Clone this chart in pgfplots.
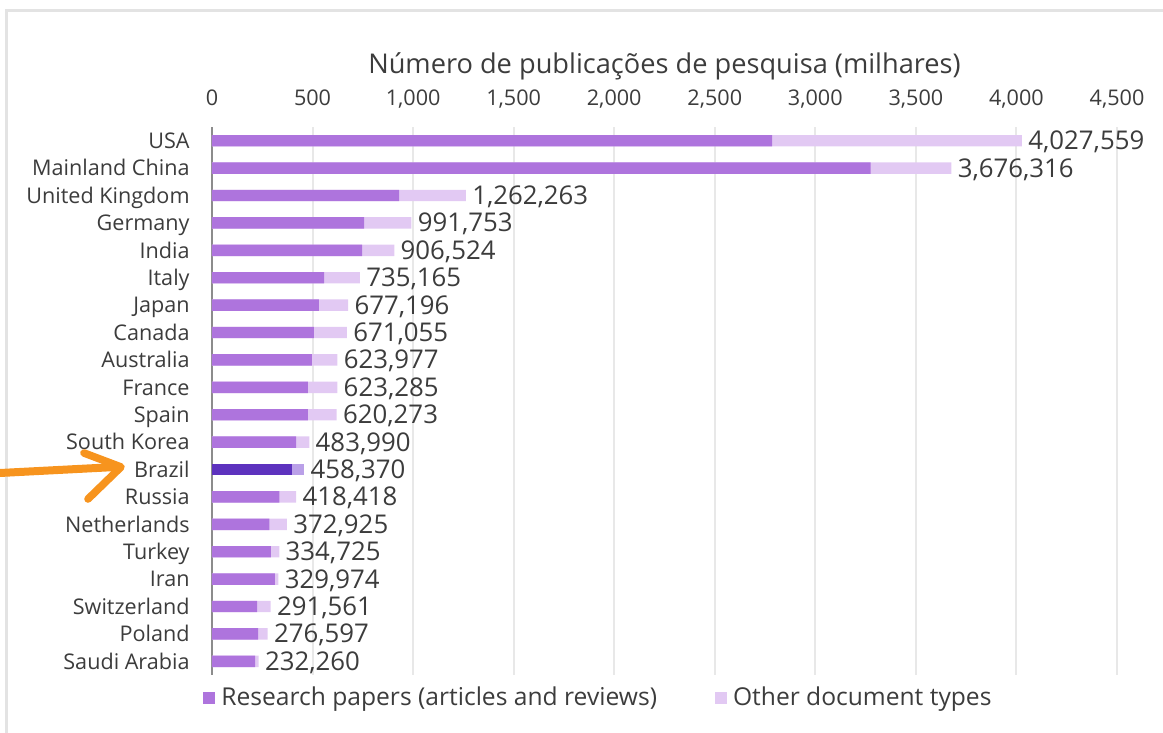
\documentclass[border=0pt]{standalone}
\usepackage{pgfplots}
\usepackage{pgfplotstable}
\pgfplotsset{compat=1.18}
\usepackage{fontspec}
\setmainfont{Open Sans}
\definecolor{resc}{RGB}{174,116,221}
\definecolor{othc}{RGB}{226,201,243}
\definecolor{brdark}{RGB}{93,50,190}
\definecolor{brlight}{RGB}{186,160,232}
\definecolor{txt}{RGB}{60,60,60}
\definecolor{arrowc}{RGB}{247,148,30}

\pgfplotstableread{
y research total label
0 2785 4027.559 4,027,559
1 3275 3676.316 3,676,316
2 930 1262.263 1,262,263
3 756 991.753 991,753
4 746 906.524 906,524
5 557 735.165 735,165
6 532 677.196 677,196
7 507 671.055 671,055
8 497 623.977 623,977
9 477 623.285 623,285
10 477 620.273 620,273
11 418 483.990 483,990
13 335 418.418 418,418
14 285 372.925 372,925
15 293 334.725 334,725
16 313 329.974 329,974
17 224 291.561 291,561
18 229 276.597 276,597
19 214 232.260 232,260
}\maindata
\pgfplotstableread{
y research total label
12 396 458.370 458,370
}\brazildata

\begin{document}
\begin{tikzpicture}
\useasboundingbox (0,0) rectangle (581.5pt,-366.5pt);
\begin{scope}[x=0.5pt,y=-0.5pt]
\draw[gray!22, line width=1.5pt] (6,760) -- (6,11) -- (1180,11);
\end{scope}
\begin{axis}[
  at={(106pt,-63.5pt)}, anchor=north west,
  scale only axis, width=452.5pt, height=274pt,
  xmin=0, xmax=4500, ymin=-0.5, ymax=19.5, y dir=reverse,
  xbar, bar width=5.7pt, bar shift=0pt,
  xtick={0,500,...,4500},
  xticklabel pos=upper,
  ytick={0,...,19},
  yticklabels={USA,Mainland China,United Kingdom,Germany,India,Italy,Japan,Canada,Australia,France,Spain,South Korea,Brazil,Russia,Netherlands,Turkey,Iran,Switzerland,Poland,Saudi Arabia},
  major tick length=0pt,
  separate axis lines,
  x axis line style={draw=none},
  y axis line style={draw=black!45, line width=0.8pt},
  axis y line*=left, axis x line*=top,
  xmajorgrids, grid style={draw=gray!18, line width=1pt},
  /pgf/number format/assume math mode=true,
  /pgf/number format/1000 sep={,},
  scaled x ticks=false,
  tick label style={font=\fontsize{10.8}{12}\selectfont, text=txt},
  xticklabel style={anchor=base, yshift=10.65pt, inner sep=0pt},
  yticklabel style={anchor=base east, inner sep=0pt, xshift=-11pt, yshift=-3.85pt},
  title={Número de publicações de pesquisa (milhares)},
  title style={at={(axis description cs:0.5,1)}, anchor=base, yshift=20.7pt, inner sep=0pt, font=\fontsize{13.6}{15}\selectfont, text=txt},
  legend columns=2,
  legend style={at={(axis description cs:0,0)}, anchor=west, xshift=-4.5pt, yshift=-11.5pt, draw=none, fill=none, inner sep=0pt, font=\fontsize{12.3}{14}\selectfont, text=txt,
    /tikz/every odd column/.append style={column sep=1pt},
    /tikz/every even column/.append style={column sep=27pt}},
  legend image code/.code={\fill[#1] (0pt,-3pt) rectangle (6pt,3pt);},
  nodes near coords style={anchor=base west, inner sep=0pt, xshift=3pt, yshift=-4.5pt, font=\fontsize{12.9}{14}\selectfont, text=txt},
]
\addlegendimage{fill=resc, draw=none}
\addlegendentry{Research papers (articles and reviews)}
\addlegendimage{fill=othc, draw=none}
\addlegendentry{Other document types}
\addplot[fill=othc, draw=none, forget plot, nodes near coords, point meta=explicit symbolic]
  table[x=total, y=y, meta=label]{\maindata};
\addplot[fill=resc, draw=none, forget plot] table[x=research, y=y]{\maindata};
\addplot[fill=brlight, draw=none, forget plot, nodes near coords, point meta=explicit symbolic]
  table[x=total, y=y, meta=label]{\brazildata};
\addplot[fill=brdark, draw=none, forget plot] table[x=research, y=y]{\brazildata};
\end{axis}
\begin{scope}[x=0.5pt,y=-0.5pt]
\draw[arrowc, line width=4pt, line cap=round] (0,473) -- (116,467);
\draw[arrowc, line width=3.8pt, line cap=round, line join=round] (84,453) -- (121,467) -- (88,499);
\end{scope}
\end{tikzpicture}
\end{document}
